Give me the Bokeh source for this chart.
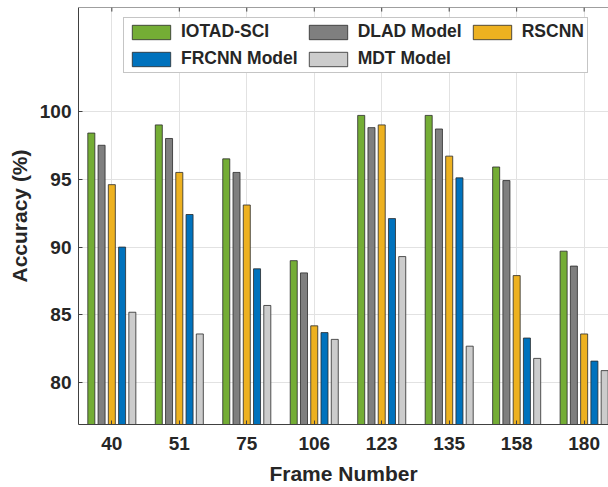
import numpy as np
from bokeh.plotting import figure
from bokeh.models import FixedTicker, Legend, LegendItem, Range1d, Span
from bokeh.embed import file_html
from bokeh.resources import INLINE

# ---- data ----
frames = ["40", "51", "75", "106", "123", "135", "158", "180"]
series_names = ["IOTAD-SCI", "DLAD Model", "RSCNN", "FRCNN Model", "MDT Model"]
iotad_sci = [98.4, 99.0, 96.5, 89.0, 99.7, 99.7, 95.9, 89.7]
dlad_model = [97.5, 98.0, 95.5, 88.1, 98.8, 98.7, 94.9, 88.6]
rscnn = [94.6, 95.5, 93.1, 84.2, 99.0, 96.7, 87.9, 83.6]
frcnn_model = [90.0, 92.4, 88.4, 83.7, 92.1, 95.1, 83.3, 81.6]
mdt_model = [85.2, 83.6, 85.7, 83.2, 89.3, 82.7, 81.8, 80.9]
y_ticks = [80, 85, 90, 95, 100]

series = [iotad_sci, dlad_model, rscnn, frcnn_model, mdt_model]
colors = ["#74AD35", "#7F7F7F", "#EDB120", "#0072BD", "#CCCCCC"]

FONT = "Liberation Sans"
TXT = "#262626"
AX = "#404040"

Y0, Y1 = 76.93, 107.65
p = figure(width=608, height=487, output_backend="svg", toolbar_location=None,
           x_range=Range1d(0.506, 8.361), y_range=Range1d(Y0, Y1),
           min_border_left=78, min_border_right=0, min_border_top=7,
           min_border_bottom=62, background_fill_color="white",
           border_fill_color="white", outline_line_color=None)

pos = np.arange(1, len(frames) + 1)
pitch = 0.152
bw = 0.104
renderers = []
for i, (vals, col) in enumerate(zip(series, colors)):
    r = p.vbar(x=pos + (i - 2) * pitch, top=vals, bottom=60, width=bw,
               fill_color=col, line_color="#2a2a2a", line_width=0.8)
    renderers.append(r)

# axes
xa = p.below[0]
xa.ticker = FixedTicker(ticks=list(pos))
xa.major_label_overrides = {int(k): f for k, f in zip(pos, frames)}
xa.axis_label = "Frame Number"
ya = p.left[0]
ya.ticker = FixedTicker(ticks=y_ticks)
ya.axis_label = "Accuracy (%)"
for ax in (xa, ya):
    ax.major_tick_in = 4
    ax.major_tick_out = 0
    ax.minor_tick_line_color = None
    ax.axis_line_color = AX
    ax.major_tick_line_color = AX
    ax.major_label_text_font = FONT
    ax.major_label_text_font_style = "bold"
    ax.major_label_text_font_size = "19px"
    ax.major_label_text_color = TXT
    ax.axis_label_text_font = FONT
    ax.axis_label_text_font_style = "bold"
    ax.axis_label_text_font_size = "21px"
    ax.axis_label_text_color = TXT
xa.major_label_standoff = 12
xa.axis_label_standoff = 9
ya.major_label_standoff = 7
ya.axis_label_standoff = 6

p.xgrid.ticker = FixedTicker(ticks=list(pos))
p.ygrid.ticker = FixedTicker(ticks=y_ticks)
p.grid.grid_line_color = "#e2e2e2"
p.grid.grid_line_width = 1

# top border with inward ticks
p.add_layout(Span(location=Y1, dimension="width", line_color=AX, line_width=1.2))
p.segment(x0=pos, x1=pos, y0=[Y1] * len(pos), y1=[Y1 - 0.3] * len(pos),
          line_color=AX, line_width=1)

legend = Legend(items=[LegendItem(label=n, renderers=[r]) for n, r in zip(series_names, renderers)],
                location=(45, 351), orientation="horizontal", ncols=3,
                glyph_width=48, glyph_height=18, label_standoff=6,
                label_text_font=FONT, label_text_font_style="bold",
                label_text_font_size="17.5px", label_text_color=TXT,
                label_height=18, spacing=6, padding=3, margin=0,
                border_line_color="#8c8c8c", border_line_width=1.5,
                background_fill_color="white", background_fill_alpha=1)
p.add_layout(legend)

open("out.html", "w").write(file_html(p, INLINE))
